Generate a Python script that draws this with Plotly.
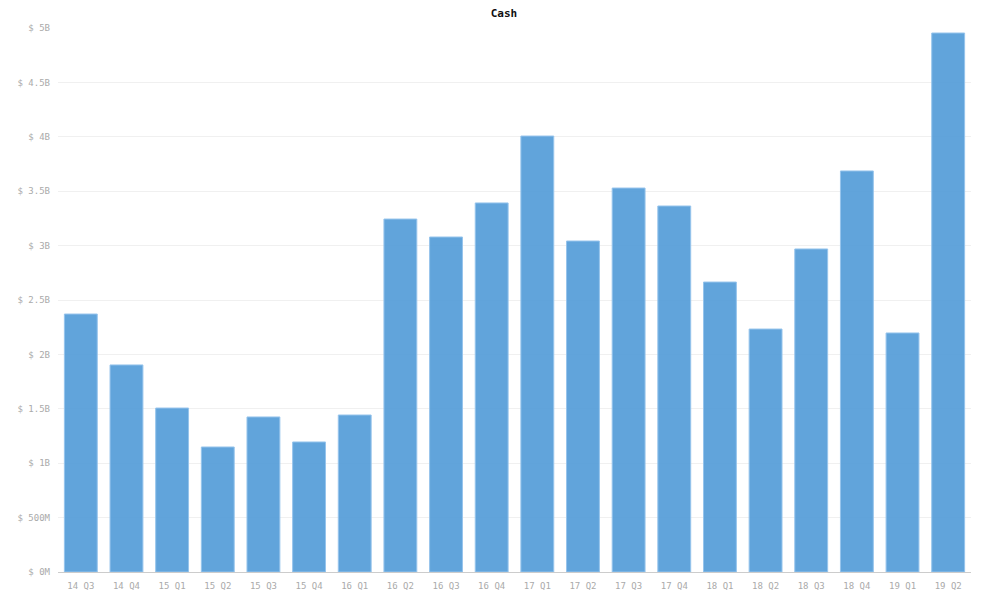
import plotly.graph_objects as go

quarters = ["14 Q3", "14 Q4", "15 Q1", "15 Q2", "15 Q3", "15 Q4", "16 Q1", "16 Q2", "16 Q3", "16 Q4",
            "17 Q1", "17 Q2", "17 Q3", "17 Q4", "18 Q1", "18 Q2", "18 Q3", "18 Q4", "19 Q1", "19 Q2"]
cash = [2.371e9, 1.903e9, 1.507e9, 1.149e9, 1.425e9, 1.195e9, 1.443e9, 3.244e9, 3.079e9, 3.392e9,
        4.007e9, 3.042e9, 3.529e9, 3.364e9, 2.665e9, 2.233e9, 2.969e9, 3.686e9, 2.197e9, 4.954e9]
tick_vals = [0, 0.5e9, 1e9, 1.5e9, 2e9, 2.5e9, 3e9, 3.5e9, 4e9, 4.5e9, 5e9]
tick_text = ["$ 0M", "$ 500M", "$ 1B", "$ 1.5B", "$ 2B", "$ 2.5B", "$ 3B", "$ 3.5B", "$ 4B", "$ 4.5B", "$ 5B"]

fig = go.Figure(go.Bar(
    x=quarters, y=cash,
    marker=dict(color="rgba(84,156,216,0.92)", line=dict(color="rgba(150,196,236,1)", width=1)),
))
fig.update_layout(
    width=992, height=593,
    margin=dict(l=50, r=29, t=20, b=29),
    paper_bgcolor="white", plot_bgcolor="white",
    title=dict(text="<b>Cash</b>", x=0.5, xanchor="center", y=0.998, yref="container", yanchor="top",
               pad=dict(t=0, b=0),
               font=dict(family="DejaVu Sans Mono", size=11, color="#111")),
    bargap=0.28,
    showlegend=False,
    font=dict(family="DejaVu Sans Mono", size=9, color="#aaa"),
)
fig.update_xaxes(showgrid=False, showline=True, linecolor="#ccc", linewidth=1, ticks="",
                 automargin=False, ticklabelstandoff=5, tickfont=dict(size=9, color="#aaa"))
fig.update_yaxes(range=[0, 5e9], tickvals=tick_vals, ticktext=tick_text, showgrid=True,
                 gridcolor="#f0f0f0", zeroline=False, showline=False, ticks="",
                 automargin=False, ticklabelstandoff=7, tickfont=dict(size=9, color="#aaa"))
fig.write_html("out.html")
